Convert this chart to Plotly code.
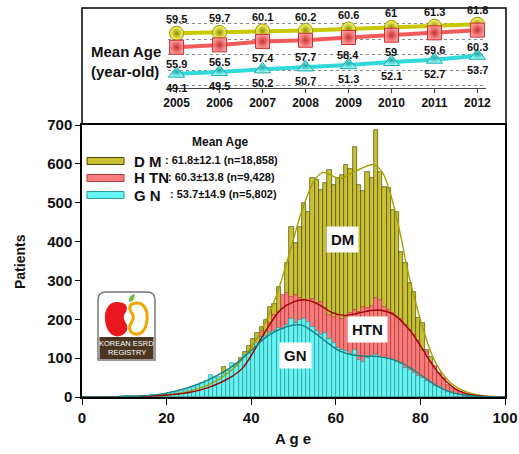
import plotly.graph_objects as go

W, H = 519, 454

# ---------------- data ----------------
ages = list(range(100))
dm_counts = [0, 0, 0, 0, 0, 1, 0, 0, 1, 1,
             1, 1, 1, 1, 2, 2, 2, 3, 3, 4,
             5, 6, 8, 9, 11, 14, 17, 21, 25, 29,
             34, 40, 47, 78, 60, 70, 84, 100, 117, 131,
             148, 165, 181, 198, 232, 240, 284, 250, 344, 438,
             396, 438, 498, 477, 563, 558, 532, 550, 584, 545,
             563, 571, 597, 588, 643, 545, 530, 579, 563, 687,
             579, 541, 537, 481, 477, 373, 345, 293, 271, 203,
             190, 121, 103, 75, 52, 36, 25, 20, 12, 10,
             6, 4, 3, 2, 1, 1, 0, 0, 0, 0]
htn_counts = [0, 0, 0, 1, 0, 0, 1, 1, 1, 1,
              3, 1, 1, 1, 2, 2, 2, 3, 3, 4,
              5, 6, 7, 8, 10, 12, 14, 17, 20, 24,
              28, 32, 36, 40, 45, 52, 58, 65, 75, 82,
              100, 130, 170, 155, 190, 210, 218, 262, 267, 258,
              262, 255, 250, 248, 252, 241, 245, 228, 212, 205,
              210, 200, 205, 215, 224, 220, 232, 228, 235, 255,
              250, 232, 225, 215, 203, 200, 185, 172, 160, 145,
              121, 115, 90, 80, 62, 48, 30, 24, 18, 14,
              8, 6, 4, 2, 1, 0, 0, 0, 0, 0]
gn_counts = [1, 1, 1, 1, 1, 1, 1, 1, 1, 2,
             2, 2, 2, 2, 3, 3, 4, 5, 6, 8,
             10, 12, 14, 16, 19, 22, 26, 30, 35, 40,
             57, 48, 52, 60, 68, 87, 80, 95, 108, 113,
             121, 140, 155, 158, 165, 170, 178, 175, 185, 200,
             190, 198, 202, 192, 180, 170, 160, 165, 150, 138,
             125, 120, 118, 110, 120, 95, 90, 100, 105, 108,
             103, 100, 98, 95, 90, 85, 75, 70, 62, 55,
             48, 42, 35, 28, 25, 18, 14, 10, 8, 6,
             4, 3, 2, 1, 1, 0, 0, 0, 0, 0]

dm_curve_age = [0, 10, 15, 20, 25, 30, 33, 36, 40, 43, 46, 49, 52, 55, 57, 59, 61, 63, 66, 69,
                71, 73, 75, 77, 79, 81, 83, 85, 87, 89, 92, 95, 98, 100]
dm_curve = [0, 0.5, 2, 5, 14, 32, 50, 75, 128, 185, 262, 368, 480, 558, 578, 570, 562, 572, 588, 598,
            578, 520, 432, 325, 238, 162, 102, 63, 38, 22, 9, 3, 1, 0]
htn_curve_age = [0, 15, 20, 25, 30, 35, 38, 41, 44, 47, 50, 53, 56, 59, 62, 65, 68, 70, 72, 74,
                 76, 78, 80, 82, 84, 86, 88, 90, 93, 96, 100]
htn_curve = [0, 2, 5, 11, 25, 50, 75, 125, 180, 225, 245, 250, 238, 218, 210, 215, 222, 224, 220, 210,
             190, 165, 132, 97, 66, 41, 23, 12, 4, 1, 0]
gn_curve_age = [0, 10, 15, 20, 25, 30, 35, 38, 41, 44, 47, 50, 52, 55, 58, 61, 64, 67, 70, 73,
                76, 79, 82, 85, 88, 91, 95, 100]
gn_curve = [0, 1, 3, 10, 24, 45, 75, 100, 130, 158, 175, 185, 185, 165, 140, 118, 108, 105, 104, 98,
            85, 65, 42, 22, 10, 4, 1, 0]

years = [2005, 2006, 2007, 2008, 2009, 2010, 2011, 2012]
dm_mean = [59.5, 59.7, 60.1, 60.2, 60.6, 61, 61.3, 61.8]
htn_mean = [55.9, 56.5, 57.4, 57.7, 58.4, 59, 59.6, 60.3]
gn_mean = [49.1, 49.5, 50.2, 50.7, 51.3, 52.1, 52.7, 53.7]

groups = ["D M", "H TN", "G N"]
group_stats = [": 61.8\u00b112.1 (n=18,858)", ": 60.3\u00b113.8 (n=9,428)", ": 53.7\u00b114.9 (n=5,802)"]

# ---------------- helpers ----------------
def px(x):
    return x / W


def py(y):
    return 1 - y / H


def P(s):
    out = []
    for tok in s.split():
        if "," in tok:
            a, b = tok.split(",")
            out.append(f"{px(float(a)):.5f},{py(float(b)):.5f}")
        else:
            out.append(tok)
    return " ".join(out)


FONT = "Arial, Liberation Sans, sans-serif"


def note(x, y, text, size, xanchor="center", color="#111", **kw):
    return dict(x=px(x), y=py(y), xref="paper", yref="paper", text=text, showarrow=False,
                xanchor=xanchor, yanchor="middle",
                font=dict(size=size, color=color, family=FONT), **kw)


fig = go.Figure()

# histogram bars (overlaid)
bar_x = [a + 0.5 for a in ages]
for counts, fill, edge, name in [
    (dm_counts, "#C9C133", "#4A4A0C", "DM"),
    (htn_counts, "#F97C7C", "#B04040", "HTN"),
    (gn_counts, "#66F3F3", "#2A9C9C", "GN"),
]:
    fig.add_trace(go.Bar(x=bar_x, y=counts, width=1, name=name,
                         marker=dict(color=fill, line=dict(color=edge, width=0.7)),
                         xaxis="x", yaxis="y", showlegend=False))

# smoothed curves
for cx, cy, col in [(dm_curve_age, dm_curve, "#A3A000"),
                    (htn_curve_age, htn_curve, "#A00000"),
                    (gn_curve_age, gn_curve, "#178585")]:
    fig.add_trace(go.Scatter(x=cx, y=cy, mode="lines", line=dict(color=col, width=1.4, shape="spline"),
                             xaxis="x", yaxis="y", showlegend=False, hoverinfo="skip"))

# inset lines
for vals, lc, mc, gc, sym in [
    (dm_mean, "#C8C800", "#FFFF70", "#8E8E00", "circle"),
    (htn_mean, "#F05A5A", "#FF9A9A", "#C83030", "square"),
    (gn_mean, "#30DADA", "#A0FFFF", "#1AA8A8", "triangle-up"),
]:
    fig.add_trace(go.Scatter(x=years, y=vals, mode="lines+markers", xaxis="x2", yaxis="y2",
                             line=dict(color=lc, width=4),
                             marker=dict(symbol=sym, size=14, color=mc,
                                         gradient=dict(type="radial", color=gc),
                                         line=dict(color=gc, width=1)),
                             showlegend=False, hoverinfo="skip"))

annotations = []
# inset value labels
for vals, shift in [(dm_mean, 14), (htn_mean, -17), (gn_mean, -14)]:
    for yr, v in zip(years, vals):
        annotations.append(dict(x=yr, y=v, xref="x2", yref="y2", text=f"<b>{v:g}</b>",
                                showarrow=False, yshift=shift, xanchor="center", yanchor="middle",
                                font=dict(size=11, color="#111", family=FONT)))

annotations.append(note(89, 62, "<b>Mean Age<br>(year-old)</b>", 15, xanchor="left", align="left"))

# legend-like block in main plot
annotations.append(note(220, 142, "<b>Mean Age</b>", 12))
shapes = []
sw_fill = ["#C9C133", "#F97C7C", "#66F3F3"]
sw_edge = ["#4A4A0C", "#B04040", "#2A9C9C"]
sw_y = [161, 178, 195]
stat_x = [163, 166, 168]
for i in range(3):
    shapes.append(dict(type="rect", xref="paper", yref="paper",
                       x0=px(87), x1=px(124), y0=py(sw_y[i] + 3.5), y1=py(sw_y[i] - 3.5),
                       fillcolor=sw_fill[i], line=dict(color=sw_edge[i], width=1)))
    annotations.append(note(132, sw_y[i], f"<b>{groups[i]}</b>", 15, xanchor="left"))
    annotations.append(note(stat_x[i], sw_y[i] - 1, f"<b>{group_stats[i]}</b>", 11, xanchor="left"))

# labels inside histogram
for txt, cx, cy in [("DM", 342, 239), ("HTN", 367, 329), ("GN", 295, 355)]:
    annotations.append(note(cx, cy, f"<b>{txt}</b>", 15, bgcolor="white", borderpad=4))

# axis titles
annotations.append(note(293, 438, "<b>A g e</b>", 15))
annotations.append(note(20, 262, "<b>Patients</b>", 14, textangle=-90))

# inset frame
shapes.append(dict(type="rect", xref="paper", yref="paper", x0=px(82), x1=px(506), y0=py(124), y1=py(8),
                   line=dict(color="black", width=1.5), layer="below"))

# logo (Korean ESRD Registry)
shapes.append(dict(type="path", xref="paper", yref="paper",
                   path=P("M 106,292 L 147,292 Q 155,292 155,300 L 155,360 L 98,360 L 98,300 Q 98,292 106,292 Z"),
                   fillcolor="white", line=dict(color="#777", width=1.5), layer="above"))
shapes.append(dict(type="rect", xref="paper", yref="paper", x0=px(99.5), x1=px(153.5), y0=py(359), y1=py(337),
                   fillcolor="#4B3621", line=dict(width=0), layer="above"))
shapes.append(dict(type="path", xref="paper", yref="paper",
                   path=P("M 117,302 C 108,301 104,312 105,320 C 106,332 113,338 120,336 "
                          "C 127,334 129,328 126,323 C 123,319 123,315 126,312 C 129,306 125,302 117,302 Z"),
                   fillcolor="#E8181E", line=dict(width=0), layer="above"))
shapes.append(dict(type="path", xref="paper", yref="paper",
                   path=P("M 137,303 C 145,303 148,312 147,320 C 146,330 141,335 135,334 "
                          "C 130,333 128,328 131,323 C 134,319 134,315 131,312 C 128,306 131,303 137,303 Z"),
                   fillcolor="rgba(0,0,0,0)", line=dict(color="#F2A500", width=3), layer="above"))
shapes.append(dict(type="path", xref="paper", yref="paper",
                   path=P("M 129,302 Q 128,295 135,294 Q 135,301 129,302 Z"),
                   fillcolor="#6DBE45", line=dict(width=0), layer="above"))
annotations.append(note(126.5, 343, "KOREAN ESRD", 7.5, color="white"))
annotations.append(note(126.5, 352, "REGISTRY", 7.5, color="white"))

fig.update_layout(
    width=W, height=H,
    margin=dict(l=0, r=0, t=0, b=0, pad=0, autoexpand=False),
    paper_bgcolor="white", plot_bgcolor="white",
    barmode="overlay", bargap=0,
    font=dict(family=FONT, color="#111"),
    xaxis=dict(domain=[px(82), px(505)], range=[0, 100], tickvals=[0, 20, 40, 60, 80, 100],
               ticktext=["<b>0</b>", "<b>20</b>", "<b>40</b>", "<b>60</b>", "<b>80</b>", "<b>100</b>"],
               ticks="outside", ticklen=6, tickcolor="black", showline=True, mirror=True,
               linecolor="black", linewidth=1.5, showgrid=False, zeroline=False, automargin=False,
               tickfont=dict(size=15, family=FONT, color="#111"), anchor="y"),
    yaxis=dict(domain=[py(397), py(125)], range=[0, 700], tickvals=[0, 100, 200, 300, 400, 500, 600, 700],
               ticktext=[f"<b>{v}</b>" for v in [0, 100, 200, 300, 400, 500, 600, 700]],
               ticks="outside", ticklen=5, tickcolor="black", showline=True, mirror=True,
               linecolor="black", linewidth=1.5, showgrid=False, zeroline=False, automargin=False,
               tickfont=dict(size=15, family=FONT, color="#111"), anchor="x"),
    xaxis2=dict(domain=[px(168), px(486)], range=[2004.8, 2012.2], tickvals=years,
                ticktext=[f"<b>{y}</b>" for y in years], ticks="outside", ticklen=4, tickcolor="#444",
                showline=True, linecolor="#444", linewidth=1, showgrid=False, zeroline=False,
                automargin=False, tickfont=dict(size=12, family=FONT, color="#111"), anchor="y2"),
    yaxis2=dict(domain=[py(88), py(8)], range=[45.4, 66], tick0=46, dtick=4, showgrid=True,
                gridcolor="#888", griddash="dot", gridwidth=1, showticklabels=False, showline=False,
                zeroline=False, ticks="", automargin=False, anchor="x2"),
    annotations=annotations,
    shapes=shapes,
)

fig.write_html("out.html")
